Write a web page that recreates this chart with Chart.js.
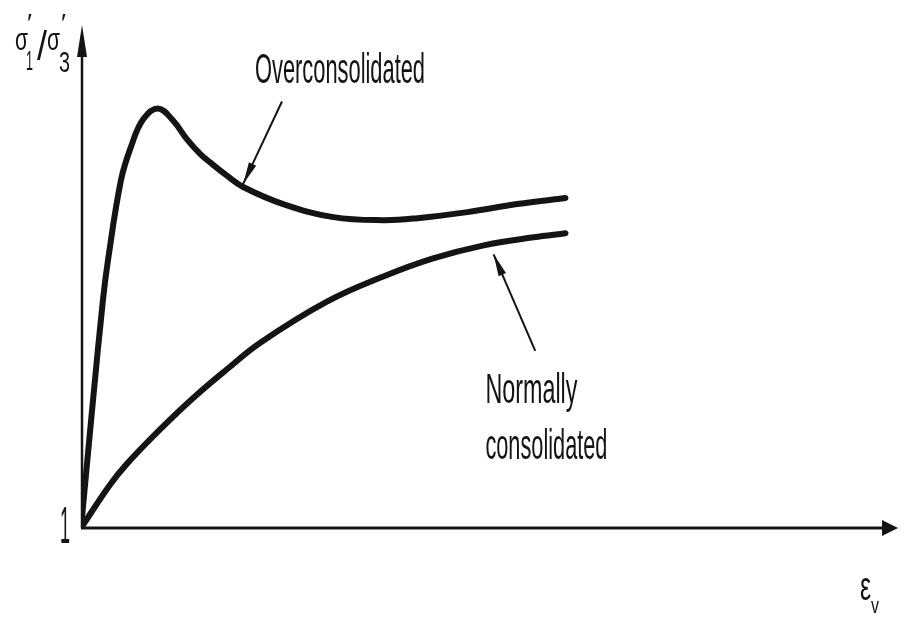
<!DOCTYPE html>
<html>
<head>
<meta charset="utf-8">
<script src="https://cdn.jsdelivr.net/npm/chart.js@4/dist/chart.umd.min.js"></script>
<style>
  html, body { margin: 0; padding: 0; background: #fff; }
  #wrap { width: 905px; height: 619px; position: relative; }
</style>
</head>
<body>
<div id="wrap"><canvas id="myChart"></canvas></div>
<script>
// axial strain (arbitrary units) and stress ratio
let strainOC = [0, 0.147, 0.269, 0.33, 0.49, 0.612, 0.759, 0.942, 1.127, 1.30, 1.458, 1.58, 1.79, 1.985, 2.475, 3.09, 3.70, 4.12, 4.73, 5.34, 5.93];
let ratioOC  = [1, 2.27, 3.27, 3.66, 4.46, 4.79, 5.06, 5.17, 5.05, 4.86, 4.72, 4.635, 4.50, 4.39, 4.22, 4.09, 4.06, 4.08, 4.14, 4.22, 4.28];

let strainNC = [0, 0.355, 0.564, 0.968, 1.37, 1.79, 2.19, 3.01, 3.70, 4.31, 4.93, 5.54, 5.93];
let ratioNC  = [1, 1.43, 1.64, 1.98, 2.29, 2.58, 2.84, 3.25, 3.50, 3.68, 3.81, 3.89, 3.93];

let seriesNames = ['Overconsolidated', 'Normally consolidated'];

function pts(xs, ys) {
    return xs.map((x, i) => ({ x: x, y: ys[i] }));
}

const ink = '#141414';
const fontFam = '"Liberation Sans Narrow", "Liberation Sans", Arial, sans-serif';

// draw text squeezed/stretched to a given width
function stretchText(ctx, text, x, y, size, width) {
    ctx.save();
    ctx.font = size + 'px ' + fontFam;
    ctx.textBaseline = 'alphabetic';
    ctx.textAlign = 'left';
    let w = ctx.measureText(text).width;
    ctx.translate(x, y);
    ctx.scale(width / w, 1);
    ctx.fillStyle = ink;
    ctx.fillText(text, 0, 0);
    ctx.restore();
}

function arrowHead(ctx, x1, y1, x2, y2, len, half) {
    let a = Math.atan2(y2 - y1, x2 - x1);
    ctx.beginPath();
    ctx.moveTo(x2, y2);
    ctx.lineTo(x2 - len * Math.cos(a) + half * Math.sin(a), y2 - len * Math.sin(a) - half * Math.cos(a));
    ctx.lineTo(x2 - len * Math.cos(a) - half * Math.sin(a), y2 - len * Math.sin(a) + half * Math.cos(a));
    ctx.closePath();
    ctx.fill();
}

const sketchPlugin = {
    id: 'sketch',
    afterDatasetsDraw(chart) {
        const ctx = chart.ctx;
        const area = chart.chartArea;
        const xs = chart.scales.x, ys = chart.scales.y;
        ctx.save();
        ctx.strokeStyle = ink;
        ctx.fillStyle = ink;

        // axes with arrows
        ctx.lineWidth = 2.5;
        ctx.beginPath();
        ctx.moveTo(area.left + 1, area.bottom);
        ctx.lineTo(area.left + 1, area.top + 20);
        ctx.stroke();
        arrowHead(ctx, area.left + 1, area.bottom, area.left + 1, area.top, 32, 5);

        ctx.lineWidth = 3;
        ctx.beginPath();
        ctx.moveTo(area.left, area.bottom);
        ctx.lineTo(area.right - 10, area.bottom);
        ctx.stroke();
        arrowHead(ctx, area.left, area.bottom, area.right, area.bottom, 16, 8);

        // pointer arrows
        ctx.lineWidth = 2;
        let p = [
            [2.46, 5.24, 1.985, 4.42],
            [5.56, 2.76, 5.05, 3.72]
        ];
        p.forEach(a => {
            let x1 = xs.getPixelForValue(a[0]), y1 = ys.getPixelForValue(a[1]);
            let x2 = xs.getPixelForValue(a[2]), y2 = ys.getPixelForValue(a[3]);
            ctx.beginPath();
            ctx.moveTo(x1, y1);
            ctx.lineTo(x2, y2);
            ctx.stroke();
            arrowHead(ctx, x1, y1, x2, y2, 22, 4);
        });

        // curve labels
        stretchText(ctx, seriesNames[0], xs.getPixelForValue(2.13), ys.getPixelForValue(5.42), 42, 170);
        stretchText(ctx, 'Normally', xs.getPixelForValue(4.95), ys.getPixelForValue(2.24), 42, 92);
        stretchText(ctx, 'consolidated', xs.getPixelForValue(4.95), ys.getPixelForValue(1.69), 42, 122);

        // origin tick label
        stretchText(ctx, '1', area.left - 21, area.bottom + 15, 52, 10);

        // y axis label  σ'1/σ'3
        let L = area.left;
        stretchText(ctx, 'σ', L - 66, 50, 32, 13);
        stretchText(ctx, '′', L - 54, 32, 26, 5);
        stretchText(ctx, '1', L - 55, 70, 28, 7);
        stretchText(ctx, '/', L - 44, 60, 40, 10);
        stretchText(ctx, 'σ', L - 34, 50, 32, 13);
        stretchText(ctx, '′', L - 20, 32, 26, 5);
        stretchText(ctx, '3', L - 22, 72, 30, 11);

        // x axis label  εv
        stretchText(ctx, 'ε', area.right - 38, area.bottom + 72, 40, 11);
        stretchText(ctx, 'v', area.right - 27, area.bottom + 85, 22, 8);

        ctx.restore();
    }
};

let myChart = document.getElementById('myChart').getContext('2d');

let chart = new Chart(myChart, {
    type: 'line',
    data: {
        datasets: [{
            label: seriesNames[0],
            data: pts(strainOC, ratioOC),
            borderColor: ink,
            borderWidth: 6,
            pointRadius: 0,
            tension: 0.4,
            borderCapStyle: 'round',
            borderJoinStyle: 'round',
            fill: false
        }, {
            label: seriesNames[1],
            data: pts(strainNC, ratioNC),
            borderColor: ink,
            borderWidth: 6,
            pointRadius: 0,
            tension: 0.4,
            borderCapStyle: 'round',
            borderJoinStyle: 'round',
            fill: false
        }]
    },
    options: {
        responsive: true,
        maintainAspectRatio: false,
        animation: false,
        layout: {
            padding: { left: 81, right: 7, top: 25, bottom: 91 }
        },
        scales: {
            x: { type: 'linear', min: 0, max: 10, display: false },
            y: { type: 'linear', min: 1, max: 6, display: false }
        },
        plugins: {
            legend: { display: false },
            tooltip: { enabled: false },
            title: { display: false }
        }
    },
    plugins: [sketchPlugin]
});
</script>
</body>
</html>
